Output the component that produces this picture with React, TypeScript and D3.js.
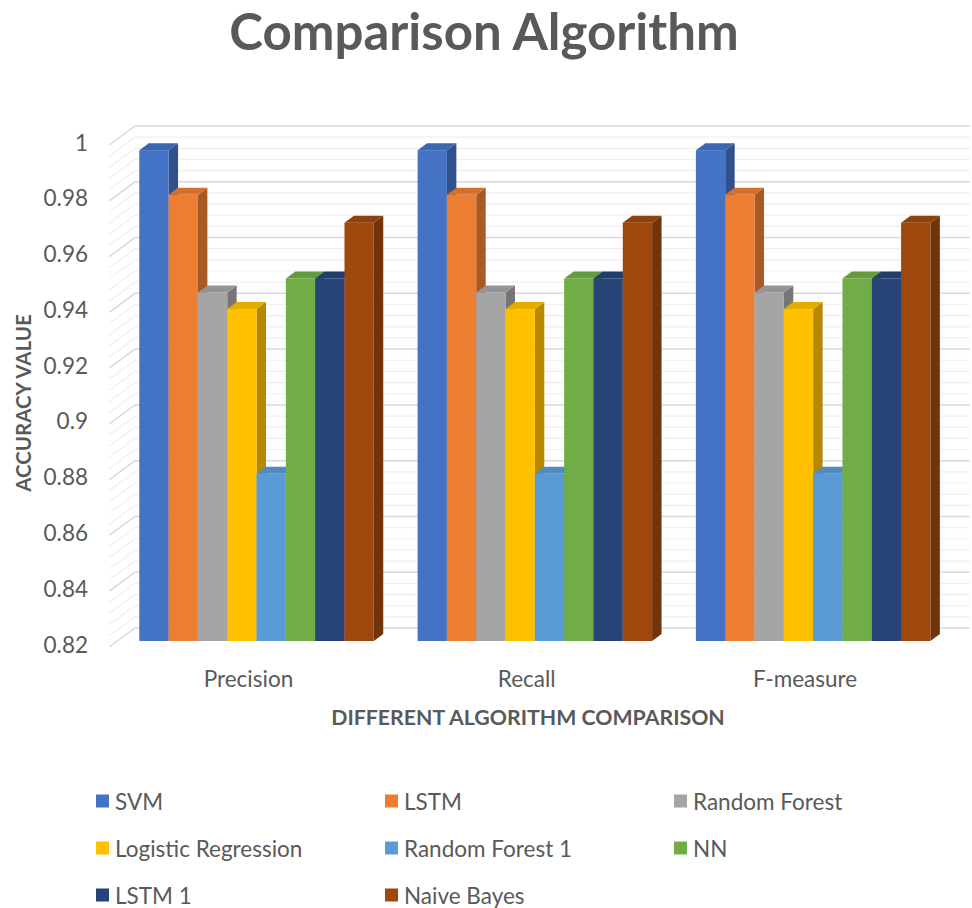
import React from "react";
import * as d3 from "d3";

// Chart data
const categories = ["Precision", "Recall", "F-measure"];
const seriesNames = [
  "SVM",
  "LSTM",
  "Random Forest",
  "Logistic Regression",
  "Random Forest 1",
  "NN",
  "LSTM 1",
  "Naive Bayes",
];
const seriesColors = [
  "#4472C4",
  "#ED7D31",
  "#A5A5A5",
  "#FFC000",
  "#5B9BD5",
  "#70AD47",
  "#264478",
  "#9E480E",
];
// values per category, one entry per series
const precisionValues = [0.996, 0.98, 0.945, 0.939, 0.88, 0.95, 0.95, 0.97];
const recallValues = [0.996, 0.98, 0.945, 0.939, 0.88, 0.95, 0.95, 0.97];
const fMeasureValues = [0.996, 0.98, 0.945, 0.939, 0.88, 0.95, 0.95, 0.97];
const yTickLabels = ["0.82", "0.84", "0.86", "0.88", "0.9", "0.92", "0.94", "0.96", "0.98", "1"];

const groupValues = [precisionValues, recallValues, fMeasureValues];

const W = 972;
const H = 908;
const FONT = "Lato, 'Open Sans', sans-serif";
const TEXT = "#595959";

// Oblique depth projection: one depth unit shifts right and up
const DX = 1.35;
const DY = -1;
const BAR_DEPTH = 7;
const WALL_DEPTH = 13;
const FRONT_DEPTH = -6;

const yMin = 0.82;
const yMax = 1.0;

export default function App() {
  const x0 = d3.scaleBand<string>().domain(categories).range([117.4, 952.3]).paddingInner(0.1574).paddingOuter(0.0787);
  const x1 = d3.scaleBand<string>().domain(seriesNames).range([0, x0.bandwidth()]).padding(0);
  const y = d3.scaleLinear().domain([yMin, yMax]).range([641, 139]);

  const [xl, xr] = x0.range();
  const gridVals = d3.range(0, 46).map((i) => +(yMin + i * 0.004).toFixed(3));

  const shift = (d: number) => [d * DX, d * DY];
  const [wdx, wdy] = shift(WALL_DEPTH);
  const [fdx, fdy] = shift(FRONT_DEPTH);
  const [bdx, bdy] = shift(BAR_DEPTH);

  const gridLines = gridVals.map((v, i) => {
    const major = i % 5 === 0;
    const yy = y(v);
    const pts = [
      [xl + fdx, yy + fdy],
      [xl + wdx, yy + wdy],
      [xr + wdx, yy + wdy],
    ];
    return (
      <polyline
        key={"g" + i}
        points={pts.map((p) => p.join(",")).join(" ")}
        fill="none"
        stroke={major ? "#d9d9d9" : "#efefef"}
        strokeWidth={major ? 1.5 : 1.2}
      />
    );
  });

  const bars: React.ReactNode[] = [];
  categories.forEach((cat, ci) => {
    seriesNames.forEach((s, si) => {
      const v = groupValues[ci][si];
      const bx = (x0(cat) as number) + (x1(s) as number);
      const bw = x1.bandwidth();
      const yt = y(v);
      const yb = y(yMin);
      const base = d3.rgb(seriesColors[si]);
      const side = base.darker(0.95).formatHex();
      const top = base.darker(0.3).formatHex();
      const sidePts = [
        [bx + bw, yt],
        [bx + bw + bdx, yt + bdy],
        [bx + bw + bdx, yb + bdy],
        [bx + bw, yb],
      ];
      const topPts = [
        [bx, yt],
        [bx + bdx, yt + bdy],
        [bx + bw + bdx, yt + bdy],
        [bx + bw, yt],
      ];
      bars.push(
        <g key={cat + s}>
          <polygon points={sidePts.map((p) => p.join(",")).join(" ")} fill={side} />
          <polygon points={topPts.map((p) => p.join(",")).join(" ")} fill={top} />
          <rect x={bx} y={yt} width={bw} height={yb - yt} fill={seriesColors[si]} />
        </g>
      );
    });
  });

  const tickLabels = yTickLabels.map((t) => (
    <text
      key={"t" + t}
      x={88}
      y={y(+t) + fdy - 3}
      textAnchor="end"
      dominantBaseline="central"
      fontSize={22.5}
      fill={TEXT}
      fontFamily={FONT}
    >
      {t}
    </text>
  ));

  const catLabels = categories.map((c) => (
    <text
      key={"c" + c}
      x={(x0(c) as number) + x0.bandwidth() / 2 + fdx}
      y={678}
      textAnchor="middle"
      dominantBaseline="central"
      fontSize={22.5}
      fill={TEXT}
      fontFamily={FONT}
    >
      {c}
    </text>
  ));

  const legendCols = [96, 385, 674];
  const legendRows = [801, 848, 895];
  const legend = seriesNames.map((s, i) => {
    const lx = legendCols[i % 3];
    const ly = legendRows[Math.floor(i / 3)];
    return (
      <g key={"l" + s}>
        <rect x={lx} y={ly - 6.5} width={13} height={13} fill={seriesColors[i]} />
        <text x={lx + 19} y={ly} dominantBaseline="central" fontSize={22.5} fill={TEXT} fontFamily={FONT}>
          {s}
        </text>
      </g>
    );
  });

  return (
    <svg width={W} height={H} style={{ position: "absolute", left: 0, top: 0, background: "#fff" }}>
      <rect width={W} height={H} fill="#fff" />
      <text x={484} y={50} textAnchor="middle" fontSize={51} fontWeight="bold" fill={TEXT} fontFamily={FONT}>
        Comparison Algorithm
      </text>
      {gridLines}
      {bars}
      {tickLabels}
      {catLabels}
      <text
        transform={`translate(23,403) rotate(-90)`}
        textAnchor="middle"
        dominantBaseline="central"
        fontSize={20.5}
        fontWeight="bold"
        fill={TEXT}
        fontFamily={FONT}
      >
        ACCURACY VALUE
      </text>
      <text x={528} y={717} textAnchor="middle" dominantBaseline="central" fontSize={21.3} fontWeight="bold" fill={TEXT} fontFamily={FONT}>
        DIFFERENT ALGORITHM COMPARISON
      </text>
      {legend}
    </svg>
  );
}
